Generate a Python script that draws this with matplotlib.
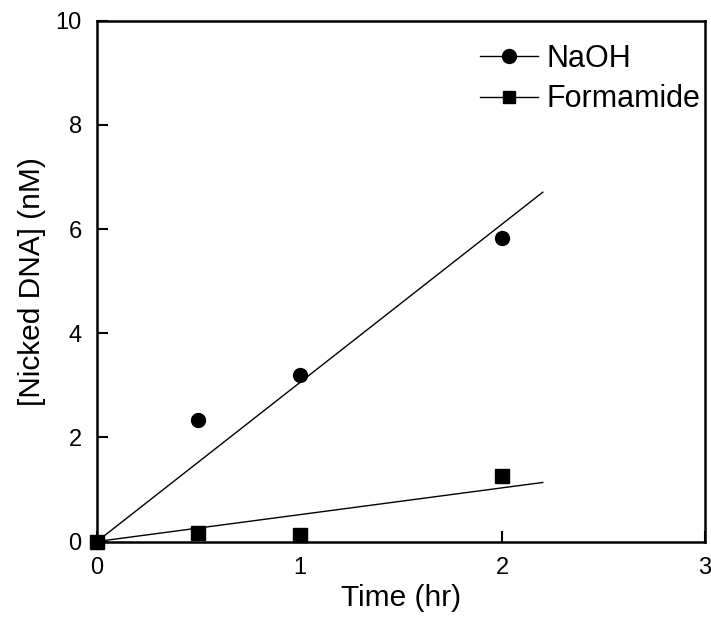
import numpy as np
import matplotlib
matplotlib.use('Agg')
import matplotlib.pyplot as plt

plt.rcParams['font.family'] = ['Liberation Sans', 'DejaVu Sans']

time_hr = [0, 0.5, 1, 2]
naoh = [0, 2.33, 3.2, 5.82]
formamide = [0, 0.17, 0.12, 1.25]

# linear fits through the origin, drawn out to 2.2 hr
x = np.array(time_hr)
k_naoh = np.sum(x * np.array(naoh)) / np.sum(x * x)
k_form = np.sum(x * np.array(formamide)) / np.sum(x * x)
xfit = np.array([0, 2.2])

fig = plt.figure(figsize=(7.11, 6.19), dpi=100)
ax = fig.add_axes([0.1364, 0.1252, 0.855, 0.8414])

ax.plot(xfit, k_naoh * xfit, color='black', lw=1.0)
ax.plot(xfit, k_form * xfit, color='black', lw=1.0)
ax.plot(time_hr, naoh, 'o', color='black', ms=10, clip_on=False, zorder=5)
ax.plot(time_hr, formamide, 's', color='black', ms=10, clip_on=False, zorder=5)

# legend handles: line with marker
h1, = ax.plot([], [], '-o', color='black', lw=1.0, ms=10)
h2, = ax.plot([], [], '-s', color='black', lw=1.0, ms=9)
ax.legend([h1, h2], ['NaOH', 'Formamide'], loc='upper right', frameon=False,
          fontsize=22, handlelength=1.9, handletextpad=0.3, labelspacing=0.35,
          borderaxespad=0, borderpad=0.1, bbox_to_anchor=(0.998, 0.962))

ax.set_xlim(0, 3)
ax.set_ylim(0, 10)
ax.set_xticks([0, 1, 2, 3])
ax.set_yticks([0, 2, 4, 6, 8, 10])
ax.tick_params(direction='in', length=8, width=1.5, labelsize=17, pad=11,
               top=False, right=False)
for s in ax.spines.values():
    s.set_linewidth(1.8)

ax.set_xlabel('Time (hr)', fontsize=21.5, labelpad=4)
ax.set_ylabel('[Nicked DNA] (nM)', fontsize=21.5, labelpad=7)

plt.savefig('out.png', dpi=100)
